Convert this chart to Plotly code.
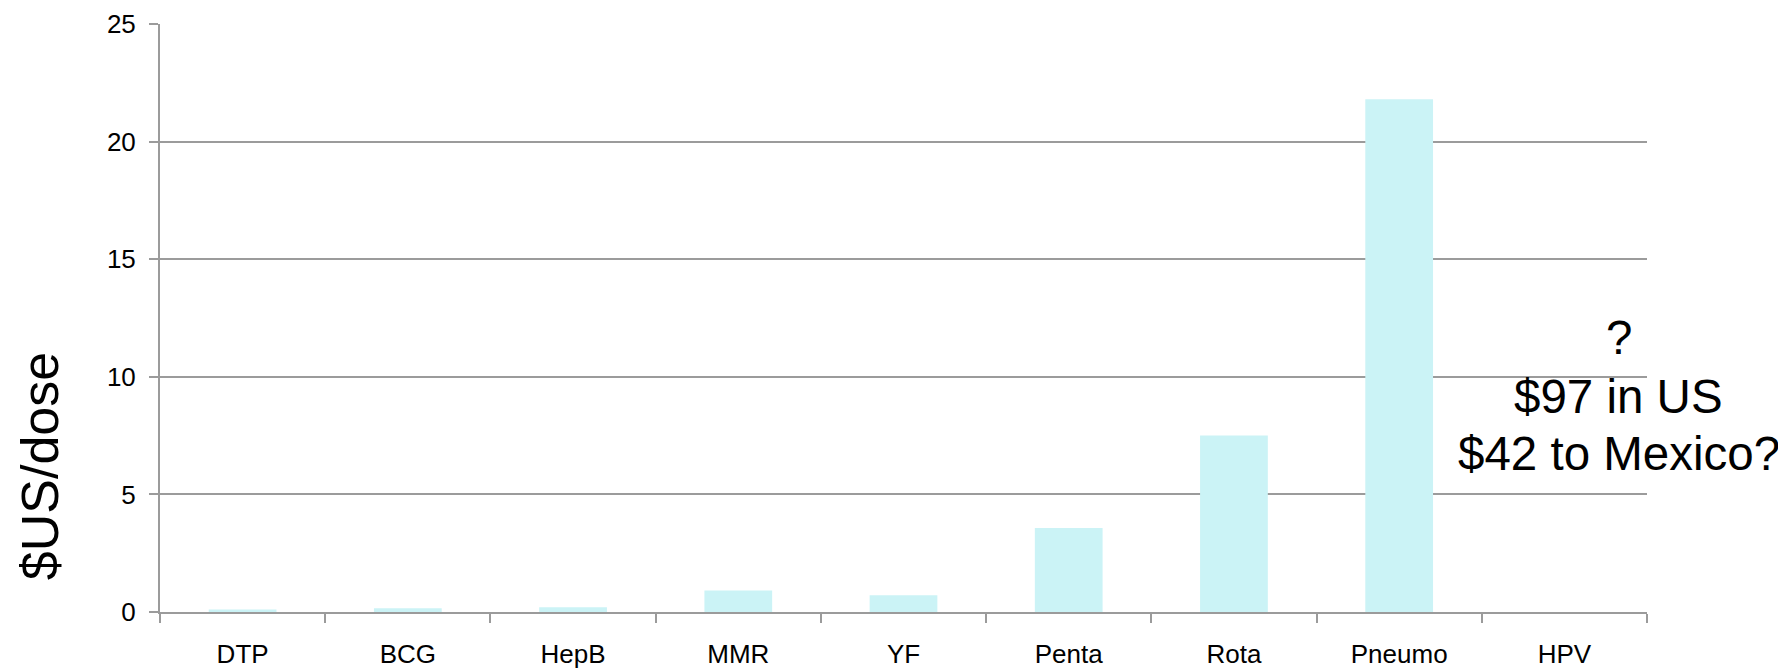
import plotly.graph_objects as go

categories = ["DTP", "BCG", "HepB", "MMR", "YF", "Penta", "Rota", "Pneumo", "HPV"]
price_per_dose = [0.11, 0.16, 0.2, 0.91, 0.71, 3.57, 7.5, 21.8, 0]
y_ticks = [0, 5, 10, 15, 20, 25]
note_lines = ["?", "$97 in US", "$42 to Mexico?"]
y_title = "$US/dose"

# page has an 8px body margin, so figure is shrunk accordingly
W, H = 1778, 662
ML, MR, MT, MB = 152, 139, 16, 58
GRAY = "#9b9b9b"
FONT = "Liberation Sans, Arial, sans-serif"

fig = go.Figure()
fig.add_trace(go.Bar(
    x=categories, y=price_per_dose,
    marker=dict(color="#cbf3f6", line=dict(width=0)),
    hoverinfo="x+y",
))

fig.update_layout(
    width=W, height=H,
    margin=dict(l=ML, r=MR, t=MT, b=MB, pad=0, autoexpand=False),
    paper_bgcolor="white", plot_bgcolor="white",
    bargap=0.59,
    showlegend=False,
    font=dict(family=FONT, color="black"),
)
fig.update_xaxes(
    type="category", range=[-0.5, len(categories) - 0.5], automargin=False,
    showline=True, linecolor=GRAY, linewidth=2,
    ticks="outside", tickson="boundaries", ticklen=9, tickwidth=2, tickcolor=GRAY,
    showgrid=False, tickfont=dict(size=26, family=FONT, color="black"),
    ticklabelstandoff=18,
)
fig.update_yaxes(
    range=[0, 25], tickvals=y_ticks, automargin=False,
    showline=True, linecolor=GRAY, linewidth=2,
    showgrid=True, gridcolor=GRAY, gridwidth=2, zeroline=False,
    ticks="outside", ticklen=9, tickwidth=2, tickcolor=GRAY,
    tickfont=dict(size=26, family=FONT, color="black"),
    ticklabelstandoff=8,
)

line_shifts = [59, 0, -57]
for line, shift in zip(note_lines, line_shifts):
    fig.add_annotation(
        text=line, x=8.33, y=9.18, xref="x", yref="y", yshift=shift,
        showarrow=False, xanchor="center", yanchor="middle", align="center",
        font=dict(size=47.5, family=FONT, color="black"),
    )
fig.add_annotation(
    text=y_title, x=0, y=6.2, xref="paper", yref="y", xshift=-120,
    showarrow=False, textangle=-90, xanchor="center", yanchor="middle",
    font=dict(size=52, family=FONT, color="black"),
)

fig.write_html("out.html")
